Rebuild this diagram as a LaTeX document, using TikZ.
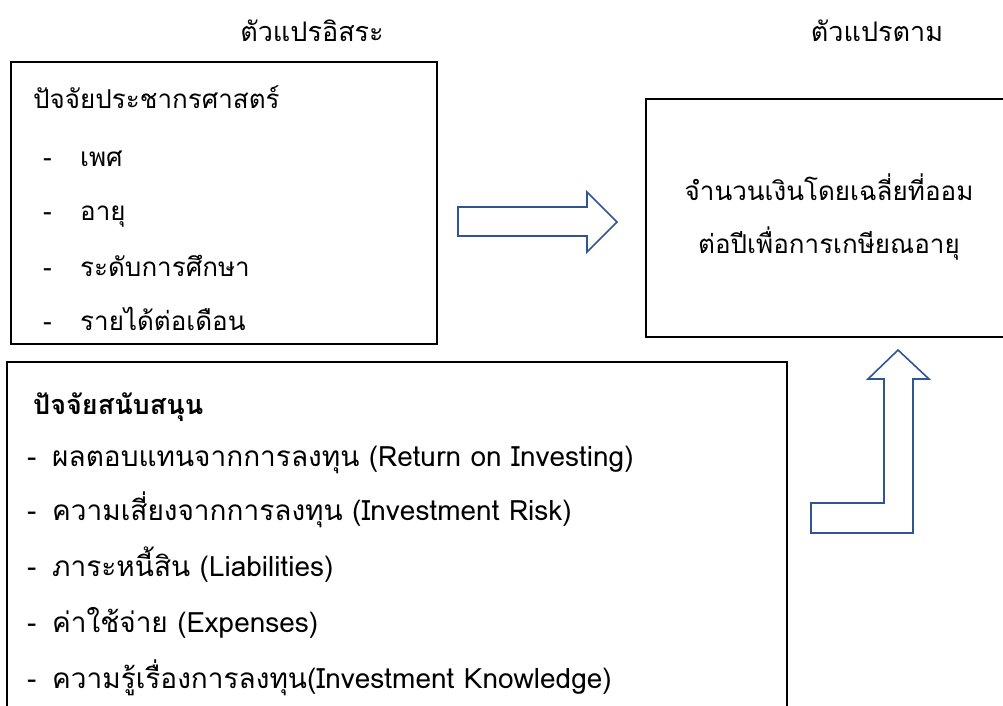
\documentclass[tikz,border=0pt]{standalone}
\usepackage{fontspec}
\setmainfont[Script=Thai]{Loma}
\definecolor{arrowblue}{HTML}{2F5597}
\begin{document}
\begin{tikzpicture}[x=1pt,y=-1pt,
  txt/.style={anchor=base west,inner sep=0pt,font=\fontsize{26}{30}\selectfont},
  txtb/.style={anchor=base west,inner sep=0pt,font=\fontsize{28}{32}\selectfont},
  ctr/.style={anchor=base,inner sep=0pt,font=\fontsize{26}{30}\selectfont},
  boxline/.style={draw=black,line width=1.8pt},
  fatarrow/.style={draw=arrowblue,line width=1.6pt,fill=white,line join=miter}]
\useasboundingbox (0,0) rectangle (1003,706);
% headers
\node[ctr,font=\fontsize{27}{30}\selectfont] (hind) at (312,42) {ตัวแปรอิสระ};
\node[ctr,font=\fontsize{27}{30}\selectfont] (hdep) at (877,42) {ตัวแปรตาม};
% box 1
\draw[boxline] (11,62) rectangle (437,344);
\node[txt] (t1) at (33,109) {ปัจจัยประชากรศาสตร์};
\foreach \y/\s [count=\i] in {166/เพศ,220/อายุ,276/ระดับการศึกษา,330/รายได้ต่อเดือน}{
  \node[txt] (d1\i) at (43,\y) {-};
  \node[txt] (a\i) at (80,\y) {\s};
}
% box 2
\draw[boxline] (7,706) -- (7,362) -- (787,362) -- (787,706);
\node[txt,font=\fontsize{27}{30}\selectfont\bfseries] (t2) at (33,414) {ปัจจัยสนับสนุน};
\foreach \y/\s [count=\i] in {466/ผลตอบแทนจากการลงทุน (Return on Investing),520/ความเสี่ยงจากการลงทุน (Investment Risk),576/ภาระหนี้สิน (Liabilities),632/ค่าใช้จ่าย (Expenses),688/ความรู้เรื่องการลงทุน(Investment Knowledge)}{
  \node[txtb] (d2\i) at (27,\y) {-};
  \node[txtb] (b\i) at (52,\y) {\s};
}
% right box
\draw[boxline] (1003,99) -- (646,99) -- (646,337) -- (1003,337);
\node[ctr] (r1) at (829,200) {จำนวนเงินโดยเฉลี่ยที่ออม};
\node[ctr] (r2) at (829,253) {ต่อปีเพื่อการเกษียณอายุ};
% arrows
\draw[fatarrow] (458,207) -- (587,207) -- (587,192) -- (617,222) -- (587,252) -- (587,236) -- (458,236) -- cycle;
\draw[fatarrow] (811,503) -- (884,503) -- (884,379) -- (868,379) -- (898,350) -- (929,379) -- (913,379) -- (913,533) -- (811,533) -- cycle;
\end{tikzpicture}
\end{document}
